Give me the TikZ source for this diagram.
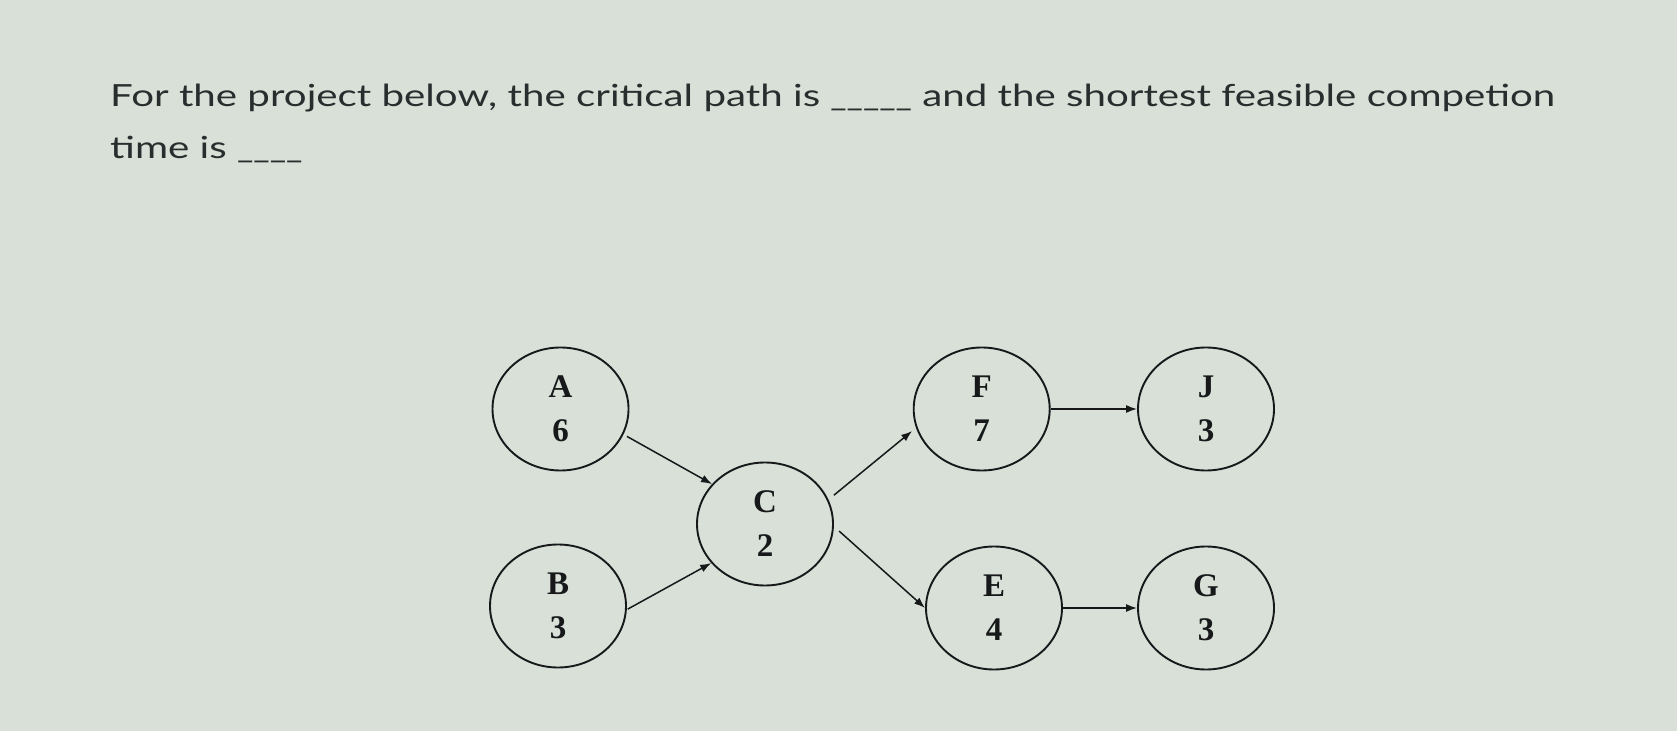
\documentclass[tikz,border=0pt]{standalone}
\usepackage{fontspec}
\setmainfont{Liberation Serif}
\newfontfamily\titlefont{Lato}
\usetikzlibrary{shapes.geometric,arrows.meta}
\definecolor{bgcol}{RGB}{216,224,215}
\definecolor{txtcol}{RGB}{40,46,46}
\definecolor{inkcol}{RGB}{22,24,26}
\newcommand{\blankline}[1]{\scalebox{0.885}[1]{#1}}
\tikzset{
  act/.style={ellipse,draw=inkcol,line width=1.9pt,minimum width=136pt,minimum height=123pt,inner sep=0pt,
    align=center,text=inkcol,font=\fontsize{33}{44}\selectfont\bfseries},
  link/.style={draw=inkcol,line width=1.5pt,-{Latex[length=11pt,width=8pt]}},
  titletext/.style={anchor=base west,inner sep=0pt,text=txtcol,font=\titlefont\fontsize{30.5}{36}\selectfont}
}
\begin{document}
\begin{tikzpicture}[x=1pt,y=1pt]
\fill[bgcol] (0,0) rectangle (1677,731);
\useasboundingbox (0,0) rectangle (1677,731);
\node[titletext] (t1) at (110,624.3) {\scalebox{1.32}[1]{For the project below, the critical path is \blankline{\_\_\_\_\_} and the shortest feasible competion}};
\node[titletext] (t2) at (110,572.7) {\scalebox{1.32}[1]{time is \blankline{\_\_\_\_}}};
\node[act] (A) at (560.5,322) {A\\6};
\node[act] (B) at (558,125) {B\\3};
\node[act] (C) at (765,207) {C\\2};
\node[act] (F) at (981.7,322) {F\\7};
\node[act] (J) at (1206,322) {J\\3};
\node[act] (E) at (994,123) {E\\4};
\node[act] (G) at (1206,123) {G\\3};
\draw[link,shorten <=4pt] (A.-22) -- (C.143);
\draw[link,shorten <=1pt] (B.-3) -- (C.216);
\draw[link,shorten <=7pt,shorten >=5pt] (C.21) -- (F.196);
\draw[link,shorten <=7pt] (C.-2) -- (E.180);
\draw[link] (F.east) -- (J.west);
\draw[link] (E.east) -- (G.west);
\end{tikzpicture}
\end{document}
